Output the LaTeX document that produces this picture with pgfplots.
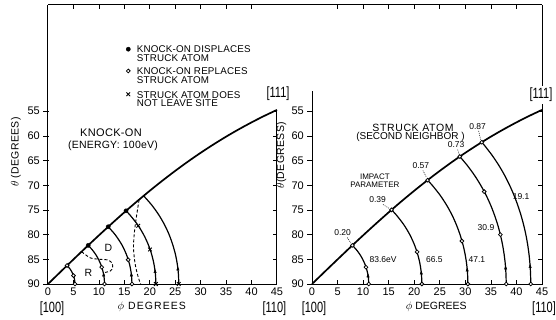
\documentclass[border=0pt]{standalone}
\usepackage{graphicx}
\usepackage{pgfplots}
\pgfplotsset{compat=1.18}
\usepackage{fontspec}
\setmainfont{Liberation Sans}
\newcommand\fs[1]{\fontsize{#1}{#1}\selectfont}
\newcommand\ls[1]{\addfontfeatures{LetterSpace=#1}}
\newcommand\dir[1]{\scalebox{1}[1.35]{\fs{11}[#1]}}

\pgfplotsset{
  panel/.style={
    scale only axis, height=279pt, anchor=south west,
    xmin=0, xmax=45, ymin=33.5, ymax=90, y dir=reverse,
    axis lines=none, clip=false, xtick=\empty, ytick=\empty,
  },
  zone/.style={black, line width=1.7pt, smooth, no marks},
  arc/.style={black, line width=1.2pt, smooth, no marks},
  bound/.style={black, line width=0.9pt, dash pattern=on 3pt off 2pt, smooth, no marks},
  lead/.style={black, line width=0.5pt, dash pattern=on 1pt off 1pt, no marks},
  opn/.style={only marks, mark=*, mark size=1.9pt, mark options={fill=white, draw=black, line width=0.8pt}},
  fld/.style={only marks, mark=*, mark size=2.1pt, mark options={fill=black, draw=black}},
  crs/.style={only marks, mark=x, mark size=2.6pt, mark options={draw=black, line width=0.9pt}},
  arw/.style={only marks, mark=triangle*, mark size=2pt, mark options={fill=black, draw=black, xscale=0.7}},
}
\tikzset{
  frame/.style={black, line width=1pt},
  tk/.style={black, line width=0.7pt},
  xtl/.style={anchor=north, yshift=-3.5pt, inner sep=0pt, font=\fs{11}},
  ytl/.style={anchor=east, xshift=-8pt, inner sep=0pt, font=\fs{11}},
}
% tick marks around a panel: bottom and top point inward, left outward,
% right inward (only where the right edge is drawn)
\newcommand\paneltick{%
  \pgfplotsinvokeforeach{5,10,...,40}{
    \draw[tk] (axis cs:##1,90) -- ([yshift=4pt]axis cs:##1,90);
    \draw[tk] (axis cs:##1,33.5) -- ([yshift=-4pt]axis cs:##1,33.5);
  }
  \pgfplotsinvokeforeach{0,5,...,45}{\node[xtl] at (axis cs:##1,90) {##1};}
  \pgfplotsinvokeforeach{55,60,...,90}{
    \draw[tk] ([xshift=1pt]axis cs:0,##1) -- ([xshift=-5pt]axis cs:0,##1);
    \node[ytl] at (axis cs:0,##1) {##1};
  }
  \pgfplotsinvokeforeach{55,60,...,85}{\draw[tk] (axis cs:45,##1) -- ([xshift=-4pt]axis cs:45,##1);}
}

\begin{document}
\begin{tikzpicture}
\path[use as bounding box] (-48pt,-36pt) rectangle (508pt,284pt);

% ---------------- knock-on panel ----------------
\begin{axis}[panel, width=229pt, name=L]
  % frame: left, bottom and the right edge below [111]
  \draw[frame] (axis cs:0,33.5) -- (axis cs:0,90) -- (axis cs:45,90) -- (axis cs:45,54.74);
  \paneltick

  % [100]-[111] zone boundary
  \addplot[zone] coordinates {(0,90) (2.5,87.50) (5,85.02) (7.5,82.56) (10,80.15) (12.5,77.79)
    (15,75.49) (17.5,73.26) (20,71.12) (22.5,69.06) (25,67.09) (27.5,65.21) (30,63.43)
    (32.5,61.75) (35,60.16) (37.5,58.67) (40,57.27) (42.5,55.96) (45,54.74)};

  % knock-on trajectories
  \addplot[arc] coordinates {(3.75,86.25) (4.37,87) (4.91,88) (5.21,89) (5.3,90)};
  \addplot[arc] coordinates {(7.90,82.18) (8.64,83) (9.36,84) (9.92,85) (10.36,86) (10.69,87) (10.92,88) (11.06,89) (11.1,90)};
  \addplot[arc] coordinates {(11.83,78.41) (13.19,80) (14.48,82) (15.40,84) (16.02,86) (16.38,88) (16.5,90)};
  \addplot[arc] coordinates {(15.34,75.18) (16.08,76) (17.61,78) (18.79,80) (19.70,82) (20.37,84) (20.83,86) (21.11,88) (21.2,90)};
  \addplot[arc] coordinates {(18.79,72.14) (20.38,74) (21.77,76) (22.90,78) (23.80,80) (24.50,82) (25.04,84) (25.41,86) (25.63,88) (25.7,90)};

  % region boundaries
  \addplot[bound] coordinates {(17.9,72.92) (17.1,78.4) (16.8,82.4) (17.1,85.8) (17.7,88.5) (18.2,90)};
  \addplot[bound] coordinates {(6.6,83.45) (8.3,84.7) (10.2,85.0) (11.8,85.15) (12.6,85.8) (12.7,86.7) (12.2,87.4) (10.9,87.7)};

  % outcomes
  \addplot[arw] coordinates {(10.94,88.2) (16.39,88.2) (21.04,87.5) (25.52,87.0)};
  \addplot[fld] coordinates {(7.90,82.18) (11.83,78.41) (15.34,75.18)};
  \addplot[opn] coordinates {(3.75,86.25) (5.0,88.3) (5.3,90) (10.56,86.6) (11.1,90) (15.75,85.1) (16.5,90)};
  \addplot[crs] coordinates {(17.73,78.2) (20.04,83) (21.2,90) (25.7,90)};

  % key
  \addplot[fld] coordinates {(15.78,42.45)};
  \addplot[opn] coordinates {(15.78,46.86)};
  \addplot[crs] coordinates {(15.78,51.58)};
  \begin{scope}[every node/.style={anchor=north west, align=left, inner sep=0pt, font=\fontsize{9.8}{8.6}\selectfont\ls{2}}]
    \node at (axis cs:17.43,41.74) {KNOCK-ON DISPLACES\\STRUCK ATOM};
    \node at (axis cs:17.43,46.20) {KNOCK-ON REPLACES\\STRUCK ATOM};
    \node at (axis cs:17.43,50.92) {STRUCK ATOM DOES\\NOT LEAVE SITE};
  \end{scope}

  \node[font=\fs{11}\ls{3}] at (axis cs:12.38,59.32) {KNOCK-ON};
  \node[font=\fs{10.5}\ls{2}] at (axis cs:12.77,62.09) {(ENERGY: 100eV)};
  \node[font=\fs{10.5}] at (axis cs:11.85,82.77) {D};
  \node[font=\fs{10.5}] at (axis cs:7.92,87.71) {R};

  \node[font=\fs{10.5}\ls{3}, rotate=90] at (axis cs:-6.3,63.3) {$\theta$ (DEGREES)};
  \node[font=\fs{10.5}\ls{10}] at (axis cs:20.4,94.66) {$\phi$ DEGREES};
  \node at (axis cs:0.79,95.06) {\dir{100}};
  \node at (axis cs:44.5,95.06) {\dir{110}};
  \node at (axis cs:45.2,51.42) {\dir{111}};
\end{axis}

% ---------------- struck-atom panel ----------------
\begin{axis}[panel, width=230pt, name=R, at={(264pt,0pt)}]
  \draw[frame] (axis cs:0,51) -- (axis cs:0,90) -- (axis cs:45,90) -- (axis cs:45,53.6);
  \draw[frame] (axis cs:45,33.5) -- (axis cs:45,49.9);
  \paneltick

  \addplot[zone] coordinates {(0,90) (2.5,87.50) (5,85.02) (7.5,82.56) (10,80.15) (12.5,77.79)
    (15,75.49) (17.5,73.26) (20,71.12) (22.5,69.06) (25,67.09) (27.5,65.21) (30,63.43)
    (32.5,61.75) (35,60.16) (37.5,58.67) (40,57.27) (42.5,55.96) (45,54.74)};

  % struck-atom trajectories
  \addplot[arc] coordinates {(7.90,82.18) (8.64,83) (9.36,84) (9.92,85) (10.36,86) (10.69,87) (10.92,88) (11.06,89) (11.1,90)};
  \addplot[arc] coordinates {(15.56,74.98) (16.48,76) (17.97,78) (19.13,80) (20.02,82) (20.68,84) (21.14,86) (21.41,88) (21.5,90)};
  \addplot[arc] coordinates {(22.61,68.97) (23.52,70) (25.05,72) (26.32,74) (27.38,76) (28.25,78) (28.96,80) (29.53,82) (29.96,84) (30.26,86) (30.44,88) (30.5,90)};
  \addplot[arc] coordinates {(28.92,64.19) (30.39,66) (31.80,68) (33.01,70) (34.05,72) (34.94,74) (35.69,76) (36.33,78) (36.85,80) (37.27,82) (37.59,84) (37.82,86) (37.95,88) (38,90)};
  \addplot[arc] coordinates {(33.22,61.29) (33.80,62) (35.28,64) (36.57,66) (37.69,68) (38.66,70) (39.51,72) (40.24,74) (40.87,76) (41.40,78) (41.84,80) (42.19,82) (42.46,84) (42.65,86) (42.76,88) (42.8,90)};

  % impact-parameter leaders
  \addplot[lead] coordinates {(6.9,80.6) (7.6,81.7)};
  \addplot[lead] coordinates {(13.9,73.9) (15.1,74.7)};
  \addplot[lead] coordinates {(21.7,67.0) (22.4,68.4)};
  \addplot[lead] coordinates {(28.5,62.8) (28.8,63.8)};
  \addplot[lead] coordinates {(32.6,59.0) (33.0,60.8)};

  \addplot[arw] coordinates {(10.96,88.4) (21.38,87.8) (30.36,87.2) (37.88,86.8) (42.68,86.5)};
  \addplot[opn] coordinates {(7.90,82.18) (15.56,74.98) (22.61,68.97) (28.92,64.19) (33.22,61.29)
    (10.56,86.6) (20.56,83.5) (29.33,81.3) (33.69,71.3) (36.85,80)
    (11.1,90) (21.5,90) (30.5,90) (38,90) (42.8,90)};

  \node[font=\fs{10.5}\ls{6}] at (axis cs:19.76,58.35) {STRUCK ATOM};
  \node[font=\fs{10}] at (axis cs:19.27,60.29) {(SECOND NEIGHBOR )};

  \begin{scope}[every node/.style={font=\fs{8.5}, inner sep=0pt}]
    \node at (axis cs:32.4,58.2) {0.87};
    \node at (axis cs:28.2,61.85) {0.73};
    \node at (axis cs:21.3,66.1) {0.57};
    \node at (axis cs:12.85,72.93) {0.39};
    \node at (axis cs:6.0,79.6) {0.20};
    \node at (axis cs:13.9,85.14) {83.6eV};
    \node at (axis cs:23.93,85.0) {66.5};
    \node at (axis cs:32.25,85.14) {47.1};
    \node at (axis cs:34.04,78.66) {30.9};
    \node at (axis cs:40.9,72.3) {19.1};
  \end{scope}
  \node[font=\fontsize{8}{7.6}\selectfont, align=center, inner sep=0pt] at (axis cs:12.3,69.1) {IMPACT\\PARAMETER};

  \node[font=\fs{10.5}\ls{3}, rotate=90] at (axis cs:-6.0,63.9) {$\theta$(DEGRESS)};
  \node[font=\fs{10.5}] at (axis cs:24.3,94.66) {$\phi$ DEGREES};
  \node at (axis cs:0.4,95.06) {\dir{100}};
  \node at (axis cs:45.4,95.06) {\dir{110}};
  \node at (axis cs:44.8,51.7) {\dir{111}};
\end{axis}

% common top border
\draw[frame] (L.north west) -- (R.north east);
\end{tikzpicture}
\end{document}
